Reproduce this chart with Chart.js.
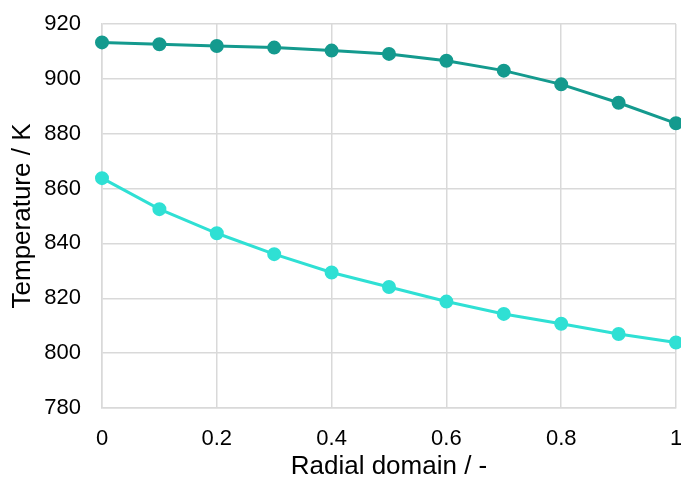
<!DOCTYPE html>
<html>
<head>
<meta charset="utf-8">
<script src="https://cdn.jsdelivr.net/npm/chart.js@4"></script>
<style>
  html, body { margin: 0; padding: 0; background: #fff; }
  #wrap { width: 681px; height: 480px; }
</style>
</head>
<body>
<div id="wrap"><canvas id="temp-chart"></canvas></div>
<script>
// radial positions and temperatures
const radial = [0, 0.1, 0.2, 0.3, 0.4, 0.5, 0.6, 0.7, 0.8, 0.9, 1];
const tempUpper = [913.3, 912.6, 912.0, 911.4, 910.3, 909.1, 906.6, 903.0, 898.0, 891.3, 883.8];
const tempLower = [863.8, 852.5, 843.7, 836.1, 829.4, 824.1, 818.8, 814.3, 810.7, 807.0, 803.9];

const pts = (ys) => radial.map((x, i) => ({ x: x, y: ys[i] }));

const fontFam = "'Liberation Sans', Arial, sans-serif";
const gridCol = '#d9d9d9';

const ctx = document.getElementById('temp-chart');
const chart = new Chart(ctx, {
    type: 'line',
    data: {
        datasets: [{
            label: 'upper',
            data: pts(tempUpper),
            borderColor: '#149a8e',
            backgroundColor: '#149a8e',
            borderWidth: 3,
            pointRadius: 5.5,
            pointHoverRadius: 5.5,
            tension: 0,
            clip: false
        }, {
            label: 'lower',
            data: pts(tempLower),
            borderColor: '#2fe0d4',
            backgroundColor: '#2fe0d4',
            borderWidth: 3,
            pointRadius: 5.5,
            pointHoverRadius: 5.5,
            tension: 0,
            clip: false
        }]
    },
    options: {
        responsive: true,
        maintainAspectRatio: false,
        animation: false,
        layout: { autoPadding: false, padding: { top: 24, right: 5, bottom: 0, left: 4 } },
        plugins: {
            legend: { display: false },
            tooltip: { enabled: false }
        },
        scales: {
            x: {
                type: 'linear',
                min: 0,
                max: 1,
                afterFit: (s) => { s.height = 72; s.paddingLeft = 0; s.paddingRight = 0; },
                ticks: {
                    stepSize: 0.2,
                    padding: 18,
                    color: '#000',
                    font: { family: fontFam, size: 22 },
                    callback: (v) => Number(v.toFixed(1)).toString()
                },
                grid: { color: gridCol, lineWidth: 1.5, drawTicks: false },
                border: { color: gridCol, width: 1.5 },
                title: {
                    display: true,
                    text: 'Radial domain / -',
                    color: '#000',
                    font: { family: fontFam, size: 26, lineHeight: 1 },
                    padding: { top: 0, bottom: 0 }
                }
            },
            y: {
                min: 780,
                max: 920,
                afterFit: (s) => { s.width = 98; s.paddingTop = 0; s.paddingBottom = 0; },
                ticks: {
                    stepSize: 20,
                    padding: 21,
                    color: '#000',
                    font: { family: fontFam, size: 22 }
                },
                grid: { color: gridCol, lineWidth: 1.5, drawTicks: false },
                border: { color: gridCol, width: 1.5 },
                title: {
                    display: true,
                    text: 'Temperature / K',
                    color: '#000',
                    font: { family: fontFam, size: 26, lineHeight: 1 },
                    padding: { top: 6, bottom: 0 }
                }
            }
        }
    }
});
</script>
</body>
</html>
